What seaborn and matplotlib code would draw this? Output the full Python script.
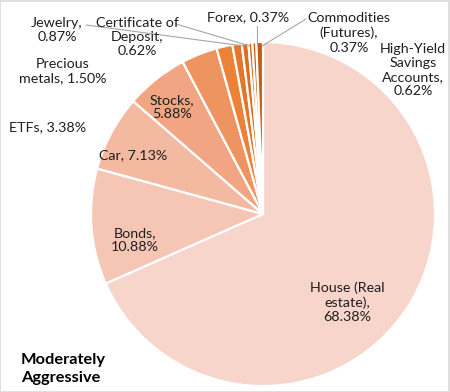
import matplotlib
matplotlib.use("Agg")
import matplotlib.pyplot as plt
import seaborn as sns

# --- data ---
categories = [
    "House (Real\nestate)", "Bonds", "Car", "Stocks", "ETFs",
    "Precious\nmetals", "Jewelry", "Certificate of\nDeposit", "Forex",
    "Commodities\n(Futures)", "High-Yield\nSavings\nAccounts",
]
shares = [68.38, 10.88, 7.13, 5.88, 3.38, 1.50, 0.87, 0.62, 0.37, 0.37, 0.62]
colors = [
    "#F8D5CB", "#F6C6B5", "#F4B9A1", "#F1A583", "#EE9461", "#EC8237",
    "#E4752A", "#DD6E1F", "#D5671A", "#CD6116", "#C55A11",
]
title = "Moderately\nAggressive"

sns.set_theme(style="white")
plt.rcParams["font.family"] = ["Lato", "DejaVu Sans"]

W, H = 450, 392
fig = plt.figure(figsize=(W / 100, H / 100), dpi=100)
fig.patch.set_facecolor("white")

cx, cy, r = 263, 214, 172
ax = fig.add_axes([(cx - r) / W, (H - cy - r) / H, 2 * r / W, 2 * r / H])
ax.pie(shares, colors=colors, startangle=90, counterclock=False,
       wedgeprops=dict(edgecolor="white", linewidth=1.6))
ax.set_xlim(-1, 1)
ax.set_ylim(-1, 1)
ax.set_aspect("equal")
ax.axis("off")

# label centres in pixels (layout only)
label_pos = {
    0: (347, 302), 1: (135, 240), 2: (133, 155), 3: (172, 107),
    4: (48, 127), 5: (63, 71), 6: (57, 30), 7: (137, 37),
    8: (248, 17), 9: (349, 33), 10: (413, 70),
}
for i, (x, y) in label_pos.items():
    name = categories[i]
    if i in (4, 8, 2):
        txt = f"{name}, {shares[i]:.2f}%"
    elif i == 5:
        txt = f"Precious\nmetals, {shares[i]:.2f}%"
    else:
        txt = f"{name},\n{shares[i]:.2f}%"
    fig.text(x / W, 1 - y / H, txt, ha="center", va="center", fontsize=10.3,
             color="#1F1F1F", linespacing=1.22)

# leader lines for the thin slices
leaders = [((86, 25), (244, 46)), ((176, 24), (250, 46)),
           ((257, 26), (257, 45)), ((306, 19), (262, 46))]
for (x0, y0), (x1, y1) in leaders:
    fig.add_artist(plt.Line2D([x0 / W, x1 / W], [1 - y0 / H, 1 - y1 / H],
                              color="#A6A6A6", linewidth=0.8))

fig.text(21 / W, 1 - 369 / H, title, ha="left", va="center", fontsize=11.8,
         fontweight="bold", color="#000000", linespacing=1.3)

fig.add_artist(plt.Rectangle((0.001, 0.001), 0.997, 0.997, fill=False,
                             edgecolor="#D9D9D9", linewidth=1.2,
                             transform=fig.transFigure))

fig.savefig("out.png", dpi=100)
